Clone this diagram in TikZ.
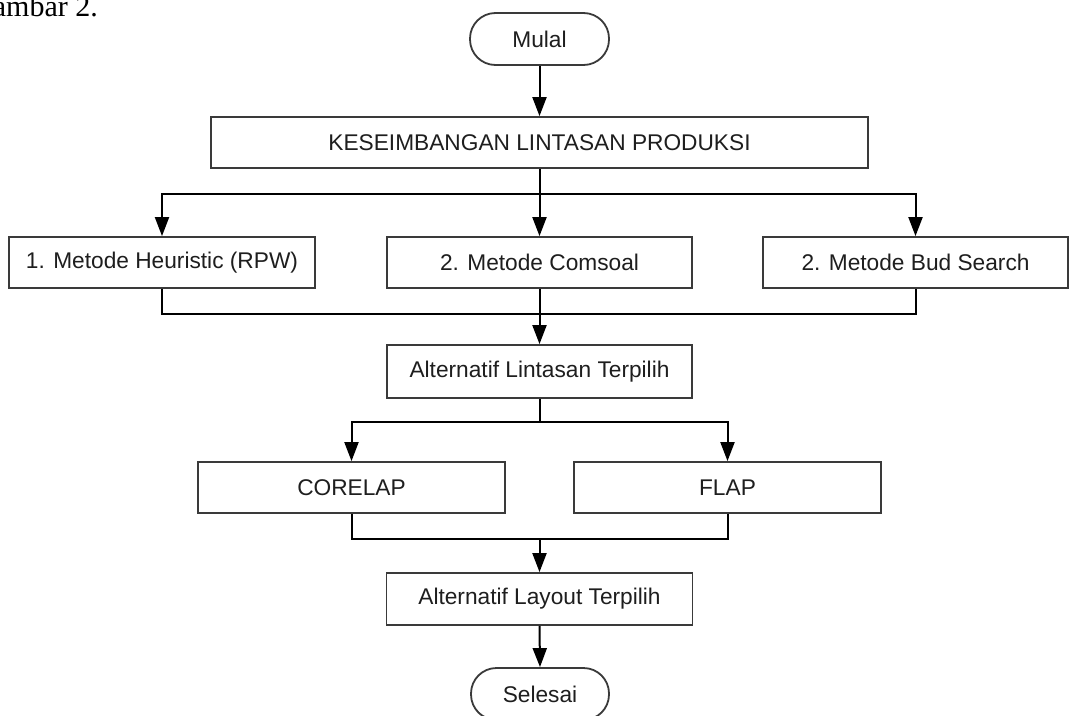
\documentclass[tikz,border=0pt]{standalone}
\usepackage{fontspec}
\setmainfont{Liberation Sans}
\newfontfamily\seriffont{Liberation Serif}
\usetikzlibrary{arrows.meta}
\definecolor{boxline}{HTML}{3A3A3A}
\definecolor{txt}{HTML}{1E1E1E}
\begin{document}
\begin{tikzpicture}[x=1pt,y=-1pt,
  box/.style={draw=boxline,line width=1.8pt,fill=white,text=txt,inner sep=0pt,
    minimum height=51pt,font=\fontsize{22.7}{27}\selectfont},
  term/.style={box,rounded corners=25.5pt,minimum height=52pt},
  conn/.style={line width=2pt,draw=black},
  arr/.style={conn,-{Triangle[length=19pt,width=14pt]}}]
\useasboundingbox (0,0) rectangle (1070,715);
\clip (0,0) rectangle (1070,715);
\fill[white] (0,0) rectangle (1070,715);
\node[anchor=base west,inner sep=0pt,font=\seriffont\fontsize{30}{33}\selectfont] (cap) at (-29,16) {Gambar 2.};
\node[term,minimum width=139pt] (mulai) at (539.5,39) {Mulal};
\node[box,minimum width=657pt] (kes) at (539.5,142.5) {KESEIMBANGAN LINTASAN PRODUKSI};
\node[box,minimum width=306pt] (h1) at (162,262.5) {1. Metode Heuristic (RPW)};
\node[box,minimum width=305pt] (h2) at (539.5,262.5) {2. Metode Comsoal};
\node[box,minimum width=305pt] (h3) at (915.5,262.5) {2. Metode Bud Search};
\node[box,minimum width=305pt,minimum height=53pt] (alt1) at (539.5,371.5) {Alternatif Lintasan Terpilih};
\node[box,minimum width=307pt] (cor) at (351.5,487.5) {CORELAP};
\node[box,minimum width=307pt] (flap) at (727.5,487.5) {FLAP};
\node[box,minimum width=306pt,minimum height=52pt] (alt2) at (539.5,599) {Alternatif Layout Terpilih};
\node[term,minimum width=138pt] (sel) at (540,694) {Selesai};
\coordinate (j1) at (539.5,194);
\coordinate (j2) at (539.5,314);
\coordinate (j3) at (539.5,422);
\coordinate (j4) at (539.5,539);
\draw[arr] (mulai.south) -- (kes.north);
\draw[arr] (kes.south) -- (h2.north);
\draw[arr] (j1) -| (h1.north);
\draw[arr] (j1) -| (h3.north);
\draw[conn] (h1.south) |- (j2);
\draw[conn] (h3.south) |- (j2);
\draw[arr] (h2.south) -- (alt1.north);
\draw[conn] (alt1.south) -- (j3);
\draw[arr] (j3) -| (cor.north);
\draw[arr] (j3) -| (flap.north);
\draw[conn] (cor.south) |- (j4);
\draw[conn] (flap.south) |- (j4);
\draw[arr] (j4) -- (alt2.north);
\draw[arr] (alt2.south) -- (sel.north);
\end{tikzpicture}
\end{document}
